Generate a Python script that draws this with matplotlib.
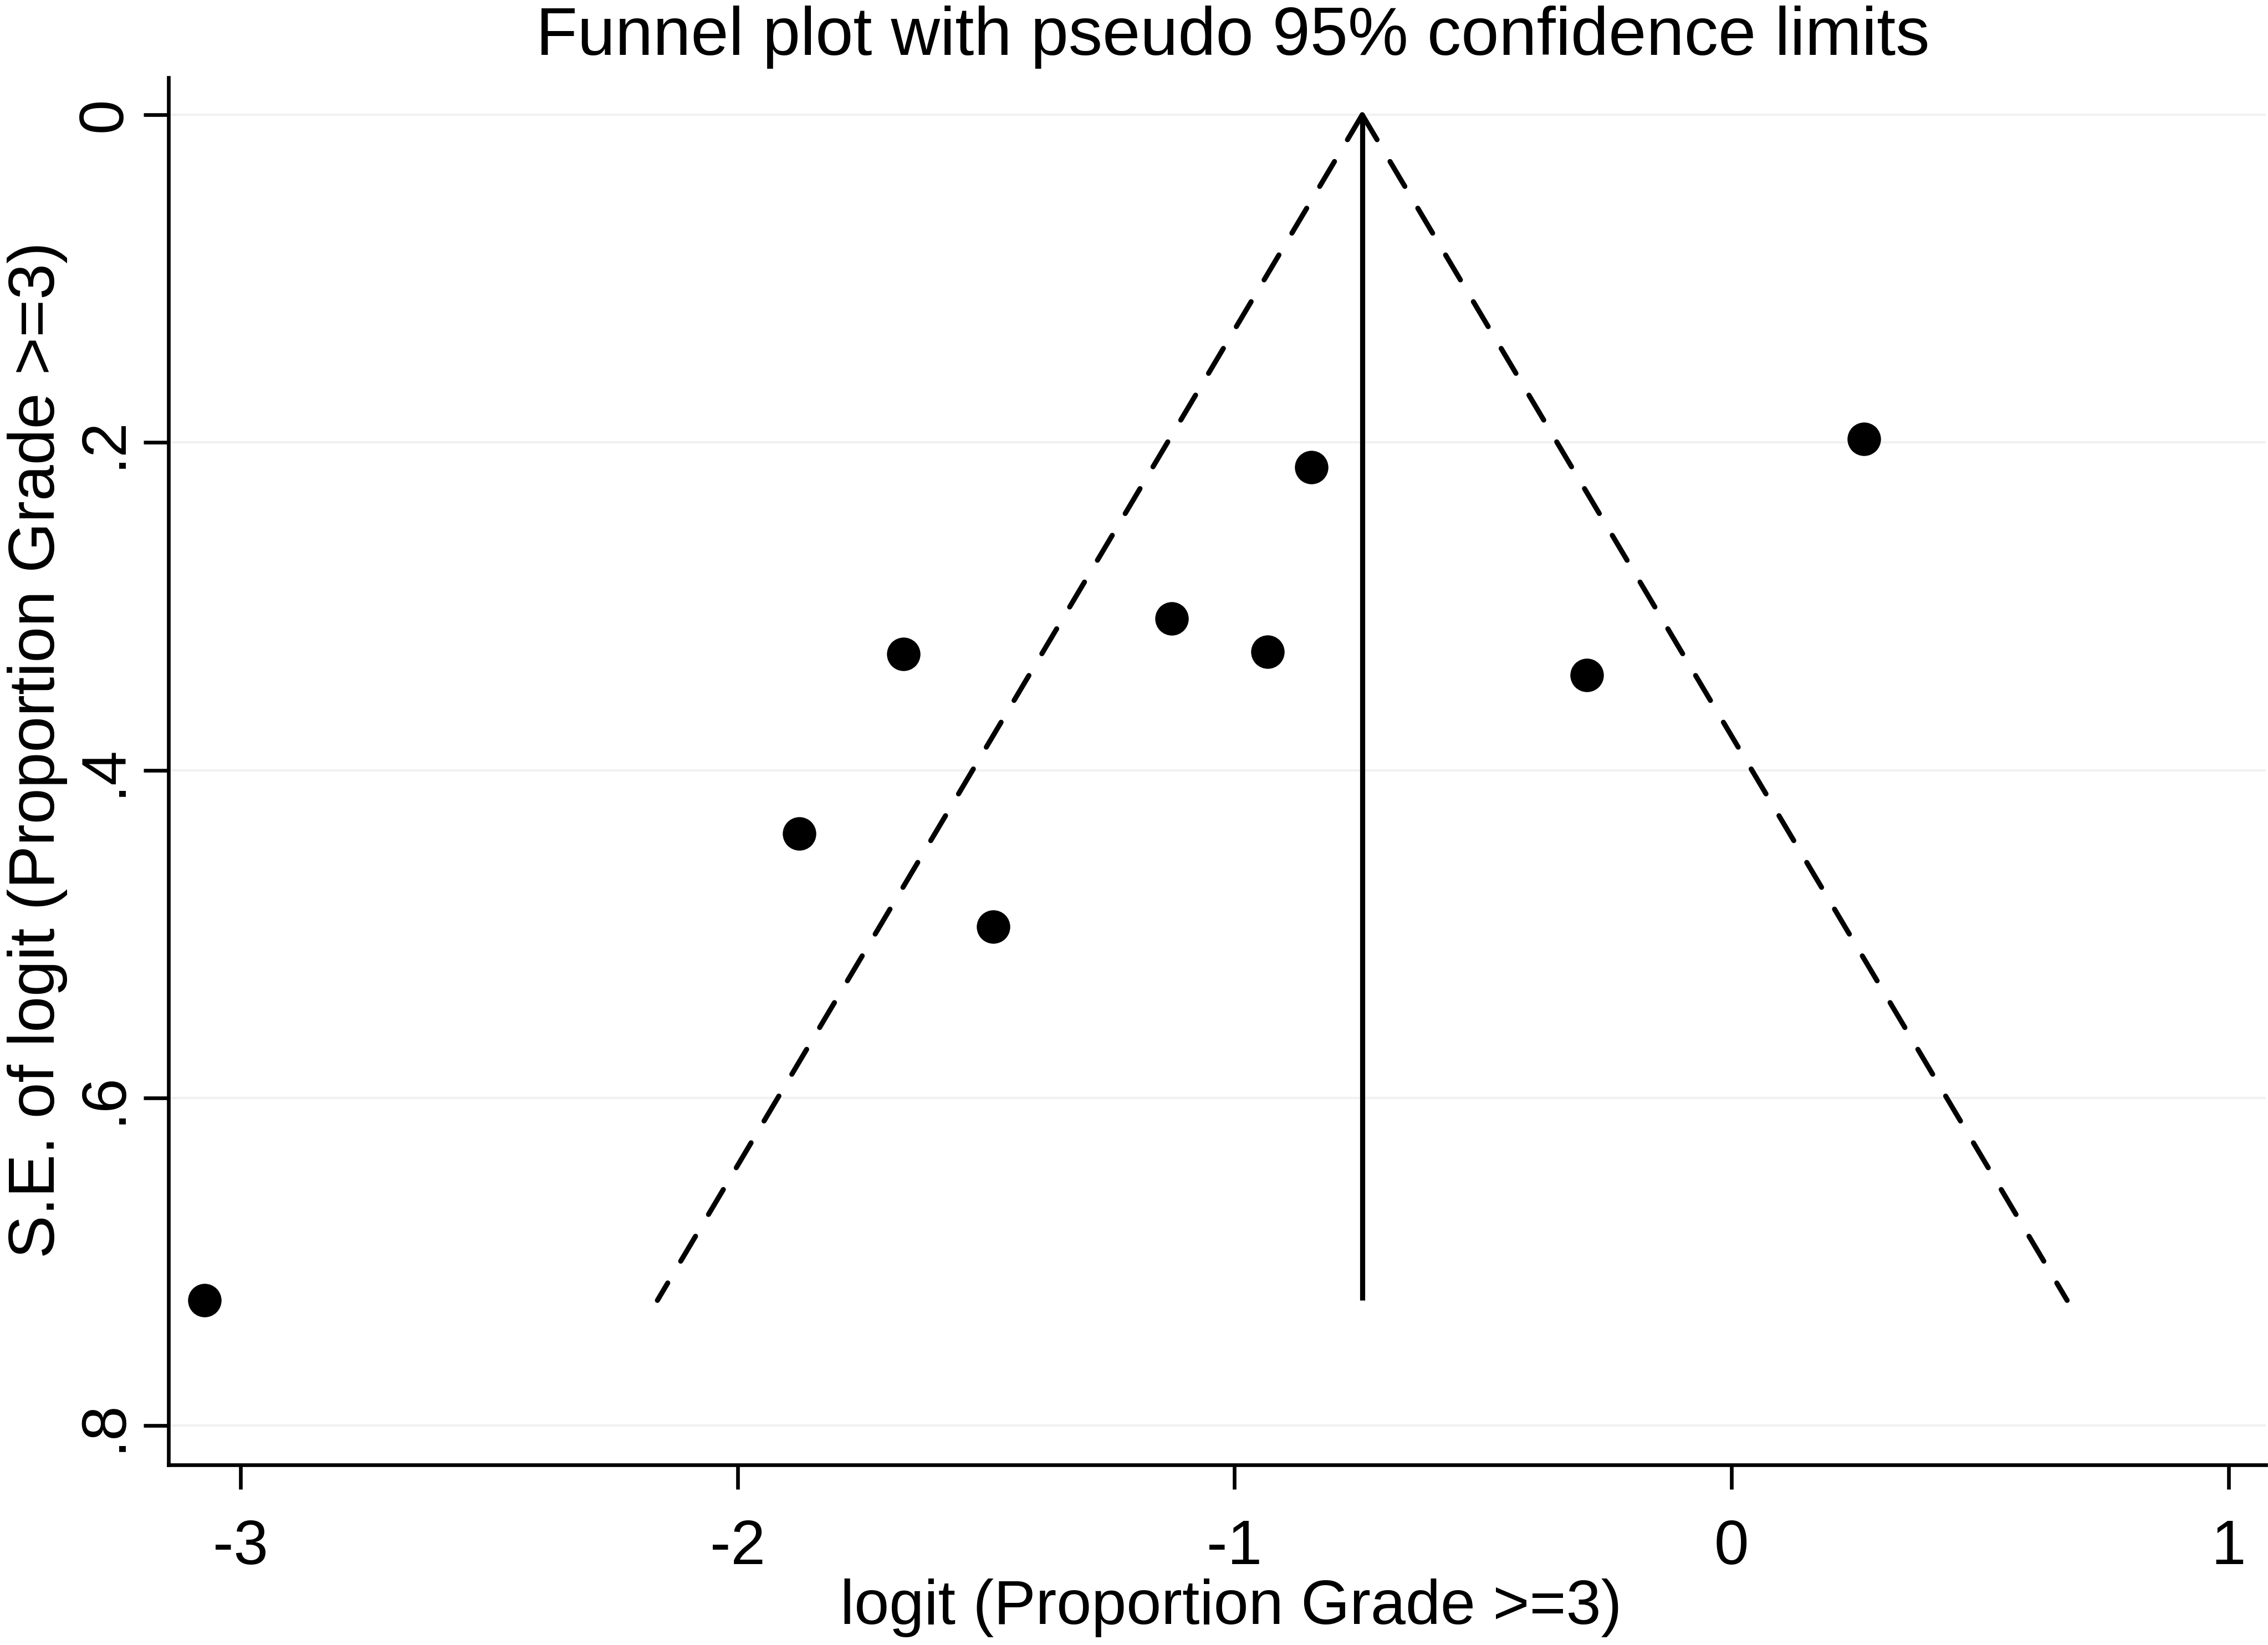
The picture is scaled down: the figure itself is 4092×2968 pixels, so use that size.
import matplotlib
matplotlib.use("Agg")
import matplotlib.pyplot as plt

# ---- data ----
logit_prop = [-3.072, -1.876, -1.666, -1.485, -1.126, -0.934, -0.845, -0.291, 0.266]
se_logit = [0.7236, 0.4386, 0.329, 0.4956, 0.3075, 0.3276, 0.215, 0.342, 0.1977]
pooled_estimate = -0.743
se_max = 0.7236
z_95 = 1.96

x_ticks = [-3, -2, -1, 0, 1]
x_tick_labels = ["-3", "-2", "-1", "0", "1"]
y_ticks = [0, 0.2, 0.4, 0.6, 0.8]
y_tick_labels = ["0", ".2", ".4", ".6", ".8"]

title_text = "Funnel plot with pseudo 95% confidence limits"
x_label = "logit (Proportion Grade >=3)"
y_label = "S.E. of logit (Proportion Grade >=3)"

plt.rcParams['font.family'] = ['Liberation Sans', 'DejaVu Sans']

W, H, DPI = 4092, 2968, 300
fig = plt.figure(figsize=(W / DPI, H / DPI), dpi=DPI, facecolor='white')
ax = fig.add_axes([304 / W, 1 - 2643 / H, (4088 - 304) / W, (2643 - 140) / H])

# gridlines
for yt in y_ticks:
    ax.axhline(yt, color='#f1f1f1', lw=1.0, zorder=0)

lw = 2.2
dash = (0, (5.7, 5.0))
# pseudo 95% limits (drawn from the vertex downward)
ax.plot([pooled_estimate, pooled_estimate - z_95 * se_max], [0, se_max],
        color='black', lw=lw, linestyle=dash,
        dash_capstyle='round', solid_capstyle='round', zorder=2)
ax.plot([pooled_estimate, pooled_estimate + z_95 * se_max], [0, se_max],
        color='black', lw=lw, linestyle=dash,
        dash_capstyle='round', solid_capstyle='round', zorder=2)
# pooled estimate line
ax.plot([pooled_estimate, pooled_estimate], [0, se_max], color='black', lw=lw,
        solid_capstyle='butt', zorder=2)

# studies
ax.plot(logit_prop, se_logit, linestyle='none', marker='o', ms=14.5,
        color='black', markeredgewidth=0, zorder=3)

ax.set_xlim(-3.145, 1.075)
ax.set_ylim(0.824, -0.0227)

for s in ['top', 'right']:
    ax.spines[s].set_visible(False)
for s in ['left', 'bottom']:
    ax.spines[s].set_linewidth(1.6)
    ax.spines[s].set_color('black')

ax.set_xticks(x_ticks, x_tick_labels, va='baseline', ha='center', fontsize=27)
ax.set_yticks(y_ticks, y_tick_labels, rotation=90, rotation_mode='anchor',
              ha='center', va='baseline', fontsize=27)
ax.tick_params(axis='x', length=10.6, width=1.6, pad=32.4, colors='black')
ax.tick_params(axis='y', length=10.8, width=1.6, pad=9.8, colors='black')

fig.text(2224 / W, 1 - 99 / H, title_text, ha='center', va='baseline', fontsize=29.4)
fig.text(2221 / W, 1 - 2930 / H, x_label, ha='center', va='baseline', fontsize=27.2)
fig.text(98 / W, 1 - 1353 / H, y_label, ha='center', va='baseline', rotation=90,
         rotation_mode='anchor', fontsize=28)

fig.savefig("out.png", dpi=DPI, facecolor='white')
